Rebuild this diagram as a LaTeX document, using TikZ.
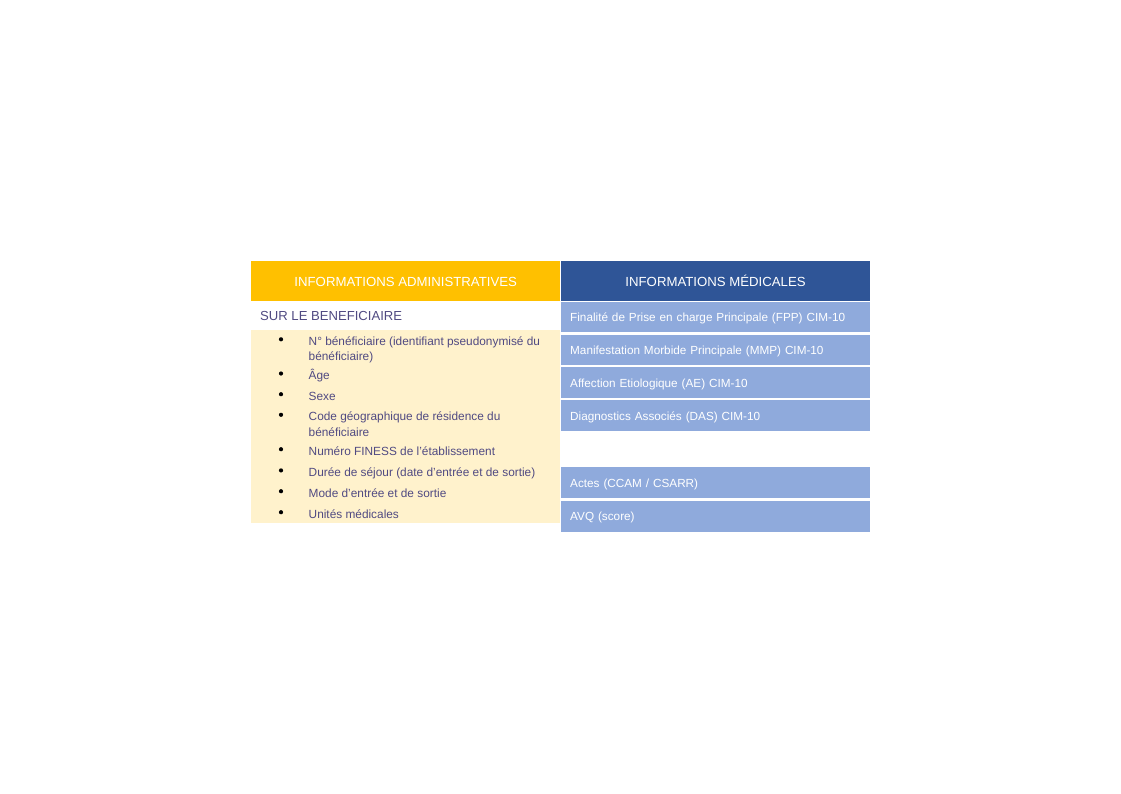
\documentclass[tikz,border=0pt]{standalone}
\usepackage{fontspec}
\setmainfont{Liberation Sans}
\definecolor{admhead}{HTML}{FFC000}
\definecolor{admbody}{HTML}{FFF2CC}
\definecolor{medhead}{HTML}{2F5597}
\definecolor{medrow}{HTML}{8FAADC}
\definecolor{txtpurple}{RGB}{80,74,130}
\begin{document}
\begin{tikzpicture}[x=1pt,y=-1pt]
\useasboundingbox[fill=white] (0,0) rectangle (1121,793);
\tikzset{
  headbox/.style={anchor=north west, inner sep=0pt, minimum width=309pt, minimum height=40pt,
    text=white, font=\fontsize{13.2}{15}\selectfont, text height=10.6pt, text depth=0pt},
  medcell/.style={anchor=north west, fill=medrow, inner xsep=9.3pt, inner ysep=0pt,
    minimum width=309.3pt, text width=290.7pt, align=left, text height=11pt, text depth=1.6pt,
    text=white, font=\fontsize{11.75}{13}\selectfont},
  itemtext/.style={anchor=base west, inner sep=0pt, text=txtpurple, font=\fontsize{11.85}{15.3}\selectfont},
  bulletdot/.style={circle, fill=black, inner sep=0pt, minimum size=4.2pt},
}
% left column
\node[headbox, fill=admhead, minimum width=309pt] (admh) at (251,261) {INFORMATIONS ADMINISTRATIVES};
\fill[admbody] (251,330) rectangle (559.5,522.7);
\node[anchor=base west, inner sep=0pt, text=txtpurple, font=\fontsize{13.1}{15}\selectfont] (benef) at (260,320) {SUR LE BENEFICIAIRE};
\newcommand{\twolines}[2]{\begin{tabular}[t]{@{}l@{}}#1\\#2\end{tabular}}
\node[itemtext] (i1) at (308.5,345.3) {\twolines{N° bénéficiaire (identifiant pseudonymisé du}{bénéficiaire)}};
\node[itemtext] (i2) at (308.5,379.5) {Âge};
\node[itemtext] (i3) at (308.5,400.2) {Sexe};
\node[itemtext] (i4) at (308.5,420.8) {\twolines{Code géographique de résidence du}{bénéficiaire}};
\node[itemtext] (i5) at (308.5,455.2) {Numéro FINESS de l’établissement};
\node[itemtext] (i6) at (308.5,476.4) {Durée de séjour (date d’entrée et de sortie)};
\node[itemtext] (i7) at (308.5,497.2) {Mode d’entrée et de sortie};
\node[itemtext] (i8) at (308.5,518.2) {Unités médicales};
\foreach \n/\y in {1/339.3,2/373.5,3/394.2,4/414.8,5/449.2,6/470.4,7/491.2,8/512.2}
  \node[bulletdot] (b\n) at (281,\y) {};
% right column
\node[headbox, fill=medhead, minimum width=309.3pt] (medh) at (560.7,261) {INFORMATIONS MÉDICALES};
\node[medcell, minimum height=30.3pt] (r1) at (560.7,301.8) {Finalité de Prise en charge Principale (FPP) CIM-10};
\node[medcell, minimum height=30.3pt] (r2) at (560.7,334.4) {Manifestation Morbide Principale (MMP) CIM-10};
\node[medcell, minimum height=30.3pt] (r3) at (560.7,367.1) {Affection Etiologique (AE) CIM-10};
\node[medcell, minimum height=30.8pt] (r4) at (560.7,400.2) {Diagnostics Associés (DAS) CIM-10};
\node[medcell, minimum height=30.8pt] (r5) at (560.7,467.2) {Actes (CCAM / CSARR)};
\node[medcell, minimum height=30.6pt] (r6) at (560.7,500.7) {AVQ (score)};
\end{tikzpicture}
\end{document}
